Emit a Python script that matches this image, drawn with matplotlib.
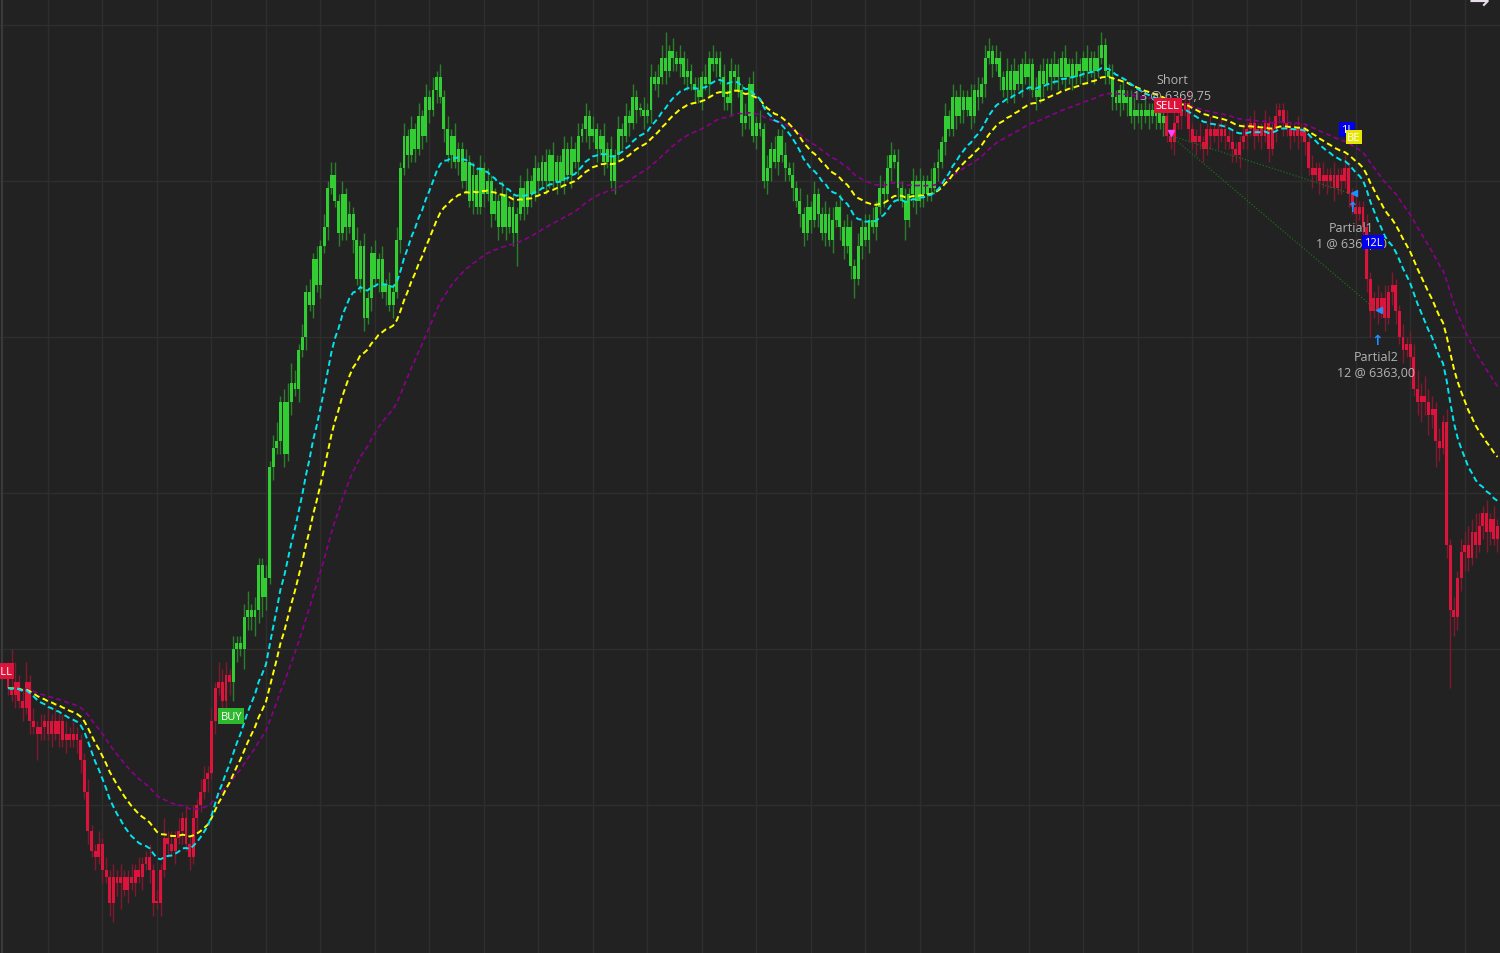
import numpy as np
import matplotlib
matplotlib.use("Agg")
import matplotlib.pyplot as plt

# ---------------- data (ES futures, 1-min bars) ----------------
first_open = 6349.0
close = [
    6348.5, 6348.25, 6348.75, 6348.0, 6347.75, 6348.75, 6347.25, 6347.0, 6346.75, 6347.0,
    6347.25, 6346.75, 6347.25, 6346.75, 6347.25, 6346.5, 6346.75, 6346.5, 6346.75, 6346.5,
    6345.75, 6344.5, 6343.0, 6342.25, 6342.0, 6342.5, 6341.5, 6341.25, 6340.25, 6341.25,
    6341.0, 6341.25, 6340.75, 6341.25, 6341.0, 6341.5, 6341.25, 6341.75, 6342.0, 6341.5,
    6340.25, 6340.25, 6341.5, 6342.75, 6342.5, 6342.25, 6342.75, 6343.0, 6343.5, 6342.5,
    6342.0, 6343.5, 6344.0, 6344.5, 6345.0, 6345.25, 6347.25, 6348.5, 6348.75, 6348.0,
    6349.0, 6348.75, 6350.0, 6350.25, 6350.0, 6351.25, 6351.5, 6351.25, 6351.5, 6353.25,
    6352.0, 6352.75, 6357.0, 6357.75, 6358.0, 6359.5, 6357.5, 6359.5, 6360.25, 6360.0,
    6361.5, 6362.0, 6363.75, 6363.25, 6365.0, 6364.0, 6365.5, 6366.25, 6367.75, 6368.25,
    6367.25, 6366.0, 6367.5, 6366.25, 6366.75, 6365.75, 6364.25, 6365.5, 6362.75, 6363.5,
    6365.25, 6364.25, 6365.0, 6363.75, 6364.0, 6363.25, 6363.75, 6365.75, 6368.5, 6369.75,
    6369.0, 6370.0, 6369.25, 6370.5, 6369.75, 6371.25, 6370.75, 6371.5, 6372.0, 6371.25,
    6370.0, 6369.0, 6369.75, 6368.75, 6369.25, 6368.0, 6368.75, 6367.25, 6368.25, 6367.0,
    6368.5, 6367.5, 6368.0, 6366.75, 6367.25, 6366.25, 6367.5, 6366.25, 6367.0, 6366.0,
    6366.75, 6367.75, 6367.0, 6368.0, 6367.5, 6368.5, 6368.0, 6368.75, 6368.0, 6369.0,
    6368.0, 6368.75, 6368.0, 6369.25, 6368.25, 6369.25, 6368.75, 6369.75, 6370.0, 6370.5,
    6369.75, 6370.0, 6369.25, 6369.75, 6368.75, 6369.25, 6368.0, 6369.0, 6370.0, 6369.75,
    6370.5, 6370.25, 6371.25, 6370.75, 6370.75, 6370.5, 6370.75, 6372.0, 6371.75, 6372.0,
    6372.75, 6372.25, 6373.0, 6372.75, 6372.5, 6372.75, 6372.0, 6372.25, 6371.75, 6371.5,
    6371.25, 6372.0, 6371.75, 6372.75, 6372.5, 6372.75, 6372.0, 6371.25, 6371.0, 6372.25,
    6372.0, 6371.5, 6370.25, 6370.5, 6371.75, 6369.75, 6370.25, 6370.0, 6368.0, 6368.5,
    6369.25, 6368.75, 6369.75, 6369.0, 6368.5, 6368.25, 6367.75, 6367.25, 6366.75, 6366.0,
    6367.0, 6366.5, 6367.5, 6366.75, 6366.0, 6366.75, 6365.75, 6366.5, 6367.0, 6366.25,
    6365.5, 6366.25, 6364.75, 6364.25, 6365.5, 6366.25, 6365.75, 6366.5, 6366.25, 6367.0,
    6367.75, 6367.5, 6368.5, 6369.0, 6368.75, 6367.75, 6367.25, 6366.5, 6367.5, 6368.0,
    6367.25, 6368.0, 6367.5, 6368.0, 6367.75, 6368.5, 6368.75, 6369.5, 6370.5, 6370.0,
    6371.25, 6370.5, 6371.25, 6370.75, 6371.25, 6370.5, 6371.5, 6371.25, 6371.75, 6372.75,
    6373.0, 6372.5, 6372.75, 6372.0, 6371.5, 6372.25, 6371.5, 6372.25, 6371.75, 6372.5,
    6372.0, 6372.5, 6371.5, 6371.25, 6372.25, 6371.75, 6372.5, 6372.0, 6372.5, 6372.0,
    6372.75, 6372.0, 6372.5, 6372.0, 6372.5, 6372.25, 6372.75, 6372.25, 6372.75, 6372.25,
    6372.75, 6373.25, 6372.25, 6372.0, 6371.25, 6371.0, 6371.5, 6371.0, 6371.25, 6370.5,
    6370.75, 6370.5, 6370.75, 6370.5, 6370.75, 6370.5, 6370.75, 6370.25, 6370.5, 6369.75,
    6369.5, 6370.25, 6370.5, 6370.75, 6371.0, 6370.0, 6369.5, 6369.75, 6369.5, 6369.25,
    6370.0, 6369.75, 6370.0, 6369.75, 6370.0, 6369.75, 6369.5, 6369.25, 6369.0, 6369.5,
    6369.75, 6370.0, 6370.25, 6369.75, 6370.0, 6369.75, 6370.25, 6369.25, 6370.0, 6370.5,
    6370.75, 6370.25, 6370.0, 6369.75, 6370.0, 6369.75, 6370.0, 6369.5, 6368.5, 6368.25,
    6368.5, 6368.0, 6368.25, 6368.0, 6368.25, 6367.75, 6368.25, 6368.0, 6368.5, 6367.5,
    6367.0, 6366.75, 6367.0, 6366.25, 6364.25, 6363.0, 6363.5, 6363.0, 6363.5, 6362.75,
    6363.75, 6364.0, 6363.0, 6362.0, 6361.5, 6361.75, 6361.25, 6360.0, 6359.5, 6359.75,
    6359.5, 6359.0, 6359.25, 6358.0, 6357.75, 6358.75, 6354.0, 6351.5, 6351.25, 6352.75,
    6353.75, 6354.0, 6353.5, 6354.5, 6354.0, 6354.75, 6355.25, 6354.5, 6355.0, 6354.25, 6354.75,
]
upper_wick = [
    0.5, 1.5, 0.75, 0.25, 0.5, 0.75, 0.25, 0.5, 0.25, 0.5,
    0.25, 0.5, 0.25, 0.5, 0.25, 0.25, 0.5, 0.25, 0.5, 0.25,
    0.25, 0.25, 0.5, 0.25, 0.25, 0.5, 0.25, 0.5, 0.25, 0.5,
    0.25, 0.5, 0.25, 0.25, 0.5, 0.25, 0.5, 0.25, 0.25, 0.5,
    0.25, 0.5, 0.25, 0.75, 0.25, 0.5, 0.25, 0.5, 0.25, 0.5,
    0.25, 0.5, 0.25, 0.5, 0.5, 0.25, 0.5, 0.25, 0.75, 0.5,
    0.5, 0.25, 0.5, 0.25, 0.25, 0.5, 0.75, 0.25, 0.5, 0.25,
    0.25, 0.5, 0.25, 0.5, 0.75, 0.25, 0.5, 0.75, 0.75, 0.5,
    0.25, 0.5, 0.25, 0.5, 0.25, 0.5, 0.25, 0.5, 0.25, 0.5,
    0.5, 0.25, 0.5, 0.25, 0.5, 0.25, 0.5, 0.25, 0.5, 0.25,
    0.25, 0.5, 0.25, 0.5, 0.25, 0.5, 0.25, 0.5, 0.25, 0.5,
    0.25, 0.5, 0.25, 0.5, 0.25, 0.5, 0.25, 0.5, 0.25, 0.5,
    0.25, 0.5, 0.25, 0.5, 0.25, 0.25, 0.5, 0.25, 0.5, 0.25,
    0.5, 0.25, 0.5, 0.25, 0.5, 0.25, 0.5, 0.25, 0.25, 0.5,
    0.25, 0.5, 0.25, 0.5, 0.25, 0.5, 0.25, 0.25, 0.5, 0.25,
    0.5, 0.25, 0.25, 0.5, 0.25, 0.5, 0.25, 0.5, 0.25, 0.5,
    0.25, 0.5, 0.25, 0.25, 0.5, 0.25, 0.5, 0.25, 0.5, 0.25,
    0.5, 0.25, 0.5, 0.25, 0.25, 0.5, 0.25, 0.5, 0.25, 0.5,
    0.5, 1.0, 0.25, 0.5, 0.25, 0.5, 0.25, 0.5, 0.25, 0.25,
    0.5, 0.25, 0.5, 0.25, 0.5, 0.25, 0.25, 0.5, 0.25, 0.5,
    0.25, 0.5, 0.25, 0.5, 0.25, 0.5, 0.25, 0.5, 0.25, 0.5,
    0.25, 0.5, 0.25, 0.25, 0.5, 0.25, 0.5, 0.25, 0.5, 0.25,
    0.5, 0.25, 0.5, 0.25, 0.25, 0.5, 0.25, 0.5, 0.25, 0.5,
    0.25, 0.5, 0.25, 0.25, 0.5, 0.25, 0.5, 0.25, 0.5, 0.25,
    0.5, 0.25, 0.5, 0.5, 0.25, 0.5, 0.25, 0.5, 0.25, 0.5,
    0.25, 0.5, 0.25, 0.25, 0.5, 0.25, 0.5, 0.25, 0.5, 0.25,
    0.5, 0.25, 0.5, 0.25, 0.25, 0.5, 0.25, 0.5, 0.25, 0.5,
    0.5, 0.25, 0.5, 0.25, 0.25, 0.5, 0.25, 0.5, 0.25, 0.25,
    0.5, 0.25, 0.25, 0.5, 0.25, 0.5, 0.25, 0.25, 0.5, 0.25,
    0.25, 0.5, 0.25, 0.25, 0.5, 0.25, 0.25, 0.5, 0.25, 0.25,
    0.5, 0.5, 0.25, 0.25, 0.5, 0.25, 0.25, 0.5, 0.25, 0.25,
    0.5, 0.25, 0.25, 0.5, 0.25, 0.25, 0.5, 0.25, 0.5, 0.25,
    0.25, 0.5, 0.25, 0.5, 0.25, 0.5, 0.25, 0.25, 0.5, 0.25,
    0.25, 0.5, 0.25, 0.25, 0.5, 0.25, 0.25, 0.5, 0.25, 0.25,
    0.5, 0.25, 0.25, 0.5, 0.25, 0.25, 0.5, 0.25, 0.25, 0.5,
    0.25, 0.25, 0.5, 0.25, 0.25, 0.5, 0.25, 0.25, 0.25, 0.5,
    0.25, 0.25, 0.5, 0.25, 0.25, 0.5, 0.25, 0.25, 0.5, 0.25,
    0.25, 0.5, 0.25, 0.25, 0.5, 0.25, 0.25, 0.5, 0.25, 0.5,
    0.25, 0.5, 0.25, 0.25, 0.5, 0.25, 0.5, 0.5, 0.75, 0.5,
    0.75, 0.5, 0.5, 0.25, 0.5, 0.25, 0.5, 0.25, 0.5, 0.25,
    0.5, 0.5, 0.75, 0.5, 0.75, 0.5, 0.25, 0.5, 0.25, 0.5, 0.25,
]
lower_wick = [
    0.25, 0.25, 0.5, 0.25, 0.5, 0.25, 0.5, 0.25, 1.0, 0.25,
    0.5, 0.25, 0.5, 0.25, 0.5, 0.25, 0.5, 0.25, 0.25, 0.5,
    0.5, 0.25, 0.5, 0.25, 0.5, 0.25, 0.5, 0.25, 0.5, 0.75,
    0.5, 1.0, 0.25, 0.5, 0.25, 0.5, 0.25, 0.5, 0.25, 0.5,
    0.5, 0.25, 0.5, 0.25, 0.5, 0.25, 0.5, 0.25, 0.5, 0.25,
    0.5, 0.25, 0.5, 0.25, 0.25, 0.5, 0.25, 0.5, 0.25, 0.5,
    0.25, 0.5, 0.75, 0.5, 0.25, 0.75, 0.5, 0.5, 0.75, 0.5,
    0.75, 0.5, 0.25, 0.5, 0.25, 0.5, 0.5, 0.25, 0.5, 0.25,
    0.5, 0.25, 0.5, 0.25, 0.5, 0.25, 0.5, 0.25, 0.5, 0.25,
    0.25, 0.5, 0.25, 0.5, 0.25, 0.5, 0.25, 0.5, 0.5, 0.25,
    0.5, 0.25, 0.5, 0.25, 0.5, 0.25, 0.5, 0.25, 0.5, 0.25,
    0.5, 0.25, 0.5, 0.25, 0.5, 0.25, 0.5, 0.25, 0.5, 0.25,
    0.5, 0.25, 0.5, 0.25, 0.5, 0.25, 0.5, 0.25, 0.5, 0.25,
    0.25, 0.5, 0.25, 0.5, 0.25, 0.5, 0.25, 0.5, 0.25, 0.5,
    1.25, 0.25, 0.5, 0.25, 0.5, 0.25, 0.5, 0.25, 0.5, 0.25,
    0.25, 0.5, 0.25, 0.5, 0.25, 0.5, 0.25, 0.5, 0.25, 0.5,
    0.5, 0.25, 0.5, 0.25, 0.5, 0.25, 0.25, 0.5, 0.25, 0.5,
    0.25, 0.5, 0.25, 0.5, 0.25, 0.5, 0.25, 0.5, 0.25, 0.5,
    0.25, 0.5, 0.25, 0.5, 0.25, 0.5, 0.25, 0.5, 0.25, 0.5,
    0.25, 0.5, 0.25, 0.5, 0.25, 0.5, 0.25, 0.5, 0.25, 0.5,
    0.5, 0.25, 0.5, 0.25, 0.5, 0.25, 0.5, 0.25, 0.25, 0.5,
    0.5, 0.25, 0.5, 0.25, 0.5, 0.25, 0.5, 0.25, 0.5, 0.5,
    0.25, 0.5, 0.25, 0.5, 0.25, 0.5, 0.25, 0.5, 0.25, 0.5,
    0.5, 0.25, 0.5, 0.75, 0.25, 0.5, 0.25, 0.5, 0.25, 0.5,
    0.25, 0.5, 0.25, 0.5, 0.25, 0.5, 0.25, 0.75, 0.25, 0.5,
    0.5, 0.25, 0.5, 0.25, 0.5, 0.25, 0.5, 0.25, 0.5, 0.25,
    0.25, 0.5, 0.25, 0.5, 0.25, 0.5, 0.25, 0.5, 0.25, 0.5,
    0.25, 0.5, 0.25, 0.5, 0.25, 0.5, 0.25, 0.5, 0.25, 0.5,
    0.25, 0.5, 0.25, 0.5, 0.25, 0.5, 0.25, 0.5, 0.25, 0.5,
    0.25, 0.5, 0.25, 0.5, 0.25, 0.5, 0.25, 0.5, 0.25, 0.5,
    0.25, 0.25, 0.5, 0.25, 0.5, 0.25, 0.5, 0.25, 0.5, 0.25,
    0.5, 0.25, 0.5, 0.25, 0.5, 0.25, 0.5, 0.25, 0.5, 0.25,
    0.25, 0.5, 0.25, 0.5, 0.25, 0.5, 0.25, 0.5, 0.25, 0.5,
    0.25, 0.5, 0.25, 0.5, 0.25, 0.5, 0.25, 0.5, 0.25, 0.5,
    0.25, 0.5, 0.25, 0.5, 0.25, 0.5, 0.25, 0.5, 0.25, 0.5,
    0.25, 0.5, 0.25, 0.5, 0.25, 0.5, 0.25, 0.5, 0.25, 0.5,
    0.25, 0.5, 0.25, 0.5, 0.25, 0.5, 0.25, 0.5, 0.25, 0.5,
    0.25, 0.5, 0.25, 0.5, 0.5, 1.0, 0.25, 0.5, 0.25, 0.5,
    0.25, 0.5, 0.5, 0.25, 0.5, 0.25, 0.5, 0.25, 0.5, 0.75,
    0.5, 0.75, 0.5, 1.0, 0.5, 0.25, 0.5, 3.0, 0.75, 0.5,
    0.5, 0.75, 0.5, 0.25, 0.5, 0.25, 0.5, 0.75, 0.5, 0.25, 0.5,
]

buy_bar = 62
sell_bar = 319
ema_fast, ema_mid, ema_slow = 20, 32, 55

entry_bar, entry_price, entry_qty = 320, 6369.75, 13
partial_bars = [370, 377]
partial_prices = [6367.5, 6363.0]
partial_qty = [1, 12]
partial_arrow_prices = [6367.0, 6361.9]

# ---------------- derived ----------------
c = np.array(close)
o = np.r_[first_open, c[:-1]]
hi = np.maximum(o, c) + np.array(upper_wick)
lo = np.minimum(o, c) - np.array(lower_wick)
n = len(c)
x = np.arange(n)


def ema(v, p):
    a = 2.0 / (p + 1)
    out = np.empty_like(v)
    out[0] = v[0]
    for i in range(1, len(v)):
        out[i] = a * v[i] + (1 - a) * out[i - 1]
    return out


BG = "#222222"
RED = "#dc143c"
GREEN = "#32cd32"
RED_W = "#7e1a2e"
GREEN_W = "#2a7f2a"

fig = plt.figure(figsize=(15, 9.54), dpi=100, facecolor=BG)
ax = fig.add_axes([0, 0, 1, 1])
ax.set_facecolor(BG)
ax.set_xlim(-2.2, 410.7)
ax.set_ylim(6338.31, 6375.0)
ax.set_xticks(np.arange(11, 411, 15))
ax.set_yticks(np.arange(6344, 6375, 6))
ax.grid(True, color="#2e2e2e", lw=1.0)
ax.tick_params(length=0, labelbottom=False, labelleft=False)
for s in ax.spines.values():
    s.set_visible(False)
ax.axvline(-1.65, color="#3a3a3a", lw=1.5)

is_green = (x >= buy_bar) & (x < sell_bar)
body_col = np.where(is_green, GREEN, RED)
wick_col = np.where(is_green, GREEN_W, RED_W)

ax.vlines(x, lo, hi, colors=wick_col, lw=1.0, zorder=2)
bottom = np.minimum(o, c)
height = np.maximum(np.abs(c - o), 0.05)
ax.bar(x, height, bottom=bottom, width=0.8, color=body_col, linewidth=0, zorder=3)

# moving averages
ax.plot(x, ema(c, ema_slow), color="#8b008b", lw=1.2, ls=(0, (3, 2)), zorder=4)
ax.plot(x, ema(c, ema_mid), color="#ffff00", lw=1.4, ls=(0, (3, 1.8)), zorder=5)
ax.plot(x, ema(c, ema_fast), color="#00e5ee", lw=1.4, ls=(0, (3, 1.8)), zorder=6)

# trade connector lines
for pb, pp in zip(partial_bars, partial_prices):
    ax.plot([entry_bar, pb], [entry_price, pp], color="#1d6b1d", lw=0.9,
            ls=(0, (1, 1.5)), zorder=4)

ax.plot([entry_bar], [entry_price + 0.1], marker="v", color="#ff40ff", ms=5, zorder=8)
for pb, pp, ap in zip(partial_bars, partial_prices, partial_arrow_prices):
    ax.plot([pb + 0.4], [pp + 0.05], marker="<", color="#1e90ff", ms=4, zorder=8)
    ax.text(pb, ap, "\u2191", color="#1e90ff", fontsize=10, ha="center",
            va="center", fontweight="bold", zorder=8)

FONT = "Open Sans"
lbl = dict(fontsize=8, color="white", ha="center", va="center", family=FONT, zorder=10)

ax.text(-2.2, 6349.15, "SELL", bbox=dict(boxstyle="square,pad=0.2", fc=RED, ec="none"), **lbl)
ax.text(buy_bar - 0.5, 6347.42, "BUY", bbox=dict(boxstyle="square,pad=0.2", fc="#2eb82e", ec="none"), **lbl)
ax.text(sell_bar + 0.3, 6370.9, "SELL", bbox=dict(boxstyle="square,pad=0.2", fc=RED, ec="none"), **lbl)

txt = dict(fontsize=9, color="#b4b4b4", ha="center", va="center", family=FONT, zorder=9)
ax.text(entry_bar + 0.4, 6371.9, "Short", **txt)
ax.text(entry_bar + 0.4, 6371.27, f"{entry_qty} @ {entry_price:.2f}".replace(".", ","), **txt)
ax.text(partial_bars[0] - 0.4, 6366.23, "Partial1", **txt)
ax.text(partial_bars[0] - 0.1, 6365.6, f"{partial_qty[0]} @ {partial_prices[0]:.2f}".replace(".", ","), **txt)
ax.text(partial_bars[1] - 0.5, 6361.27, "Partial2", **txt)
ax.text(partial_bars[1] - 0.5, 6360.65, f"{partial_qty[1]} @ {partial_prices[1]:.2f}".replace(".", ","), **txt)

ax.text(375.7, 6365.65, f"{partial_qty[1]}L", bbox=dict(boxstyle="square,pad=0.15", fc="#0000ee", ec="none"), **lbl)
ax.text(368.6, 6369.98, f"{partial_qty[0]}L", bbox=dict(boxstyle="square,pad=0.15", fc="#0000ee", ec="none"), **lbl)
ax.text(370.5, 6369.68, "BE", bbox=dict(boxstyle="square,pad=0.15", fc="#e6e600", ec="none"), **lbl)

ax.text(405.0, 6374.95, "\u2192", color="#e8dce8", fontsize=18, ha="center", va="center", zorder=10)

fig.savefig("out.png", dpi=100, facecolor=BG)
